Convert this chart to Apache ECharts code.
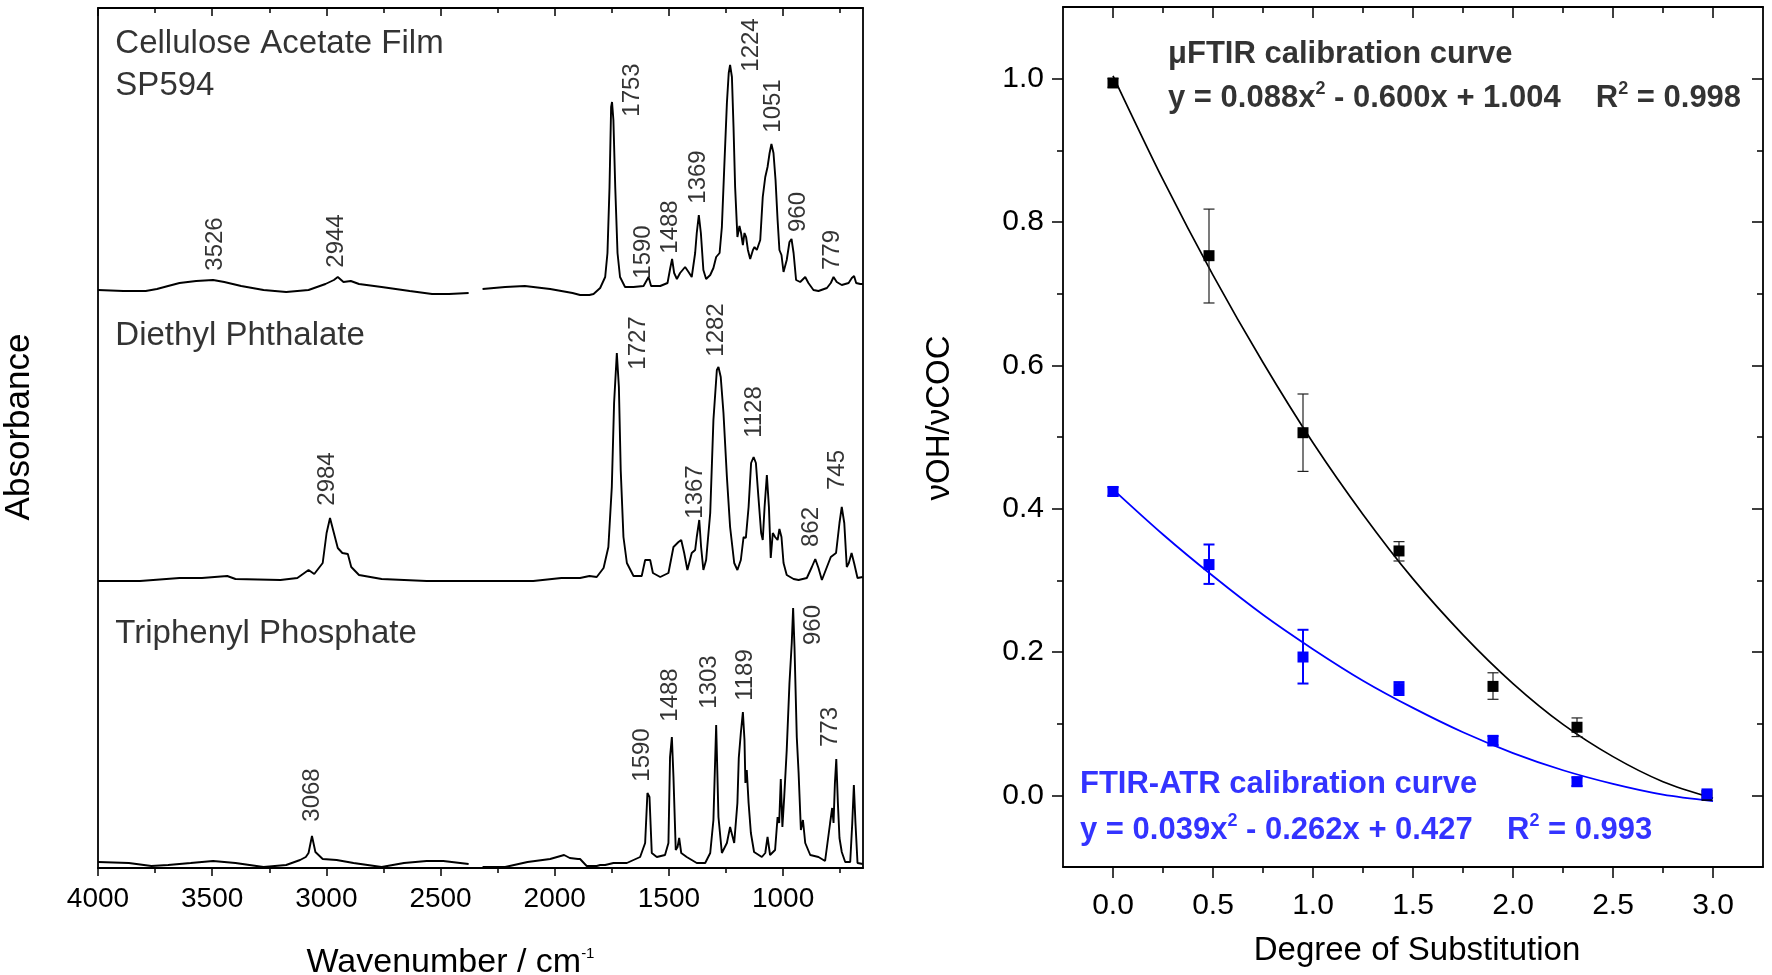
<!DOCTYPE html>
<html>
<head>
<meta charset="utf-8">
<script src="https://cdn.jsdelivr.net/npm/echarts@6/dist/echarts.min.js"></script>
<style>html,body{margin:0;padding:0;background:#fff}#c{width:1772px;height:975px}</style>
</head>
<body>
<div id="c"></div>
<script>
const FONT = 'Liberation Sans, Arial, Helvetica, sans-serif';

// ---- Left panel: FTIR spectra, [wavenumber cm-1, stacked absorbance (a.u.)] ----
const celluloseAcetate = [[4000,5.78],[3889,5.77],[3791,5.77],[3742,5.79],[3693,5.82],[3643,5.85],[3570,5.87],[3496,5.88],[3447,5.86],[3373,5.82],[3275,5.78],[3176,5.76],[3078,5.78],[3004,5.84],[2967,5.88],[2950,5.91],[2925,5.86],[2893,5.87],[2857,5.84],[2758,5.81],[2635,5.77],[2537,5.74],[2463,5.74],[2377,5.75],[2350,'-'],[2316,5.79],[2217,5.81],[2131,5.82],[2020,5.79],[1922,5.75],[1889,5.73],[1848,5.73],[1830,5.74],[1801,5.80],[1779,5.91],[1769,6.15],[1760,6.81],[1753,7.61],[1749,7.66],[1743,7.48],[1735,6.81],[1725,6.15],[1714,5.91],[1692,5.81],[1655,5.81],[1611,5.82],[1589,5.91],[1578,5.82],[1538,5.82],[1506,5.85],[1494,6.00],[1486,6.09],[1477,5.95],[1465,5.89],[1451,5.95],[1429,6.01],[1414,5.96],[1400,5.91],[1385,6.15],[1378,6.35],[1369,6.53],[1360,6.35],[1349,5.98],[1337,5.89],[1319,5.93],[1305,6.00],[1293,6.11],[1278,6.15],[1268,6.41],[1258,6.98],[1246,7.65],[1238,7.95],[1232,8.03],[1224,7.91],[1217,7.41],[1210,6.81],[1200,6.31],[1191,6.42],[1184,6.35],[1176,6.23],[1169,6.35],[1162,6.31],[1154,6.18],[1144,6.09],[1132,6.18],[1125,6.21],[1115,6.18],[1100,6.28],[1089,6.71],[1078,6.91],[1068,7.01],[1059,7.15],[1051,7.24],[1042,7.15],[1033,6.88],[1024,6.48],[1016,6.18],[1007,6.13],[998,5.96],[984,6.08],[972,6.26],[963,6.29],[954,6.15],[943,5.88],[925,5.86],[903,5.91],[889,5.85],[867,5.78],[845,5.77],[808,5.80],[791,5.85],[779,5.91],[765,5.86],[743,5.83],[713,5.85],[699,5.90],[689,5.92],[680,5.85],[662,5.84],[650,5.84]];

const diethylPhthalate = [[4000,2.87],[3816,2.87],[3643,2.90],[3545,2.90],[3434,2.92],[3398,2.89],[3201,2.88],[3127,2.90],[3078,2.98],[3053,2.94],[3016,3.05],[2999,3.35],[2984,3.50],[2967,3.35],[2950,3.20],[2930,3.15],[2906,3.14],[2891,3.01],[2857,2.93],[2758,2.89],[2561,2.87],[2340,2.87],[2094,2.87],[1971,2.90],[1889,2.90],[1848,2.92],[1816,2.91],[1786,3.00],[1765,3.21],[1750,3.81],[1740,4.65],[1728,5.15],[1719,4.81],[1711,3.98],[1699,3.31],[1684,3.05],[1655,2.92],[1619,2.92],[1604,3.08],[1582,3.08],[1570,2.95],[1538,2.91],[1502,2.95],[1480,3.21],[1458,3.26],[1446,3.28],[1433,3.15],[1419,2.98],[1400,3.15],[1385,3.18],[1378,3.31],[1367,3.48],[1359,3.21],[1349,2.98],[1337,3.08],[1319,3.55],[1305,4.48],[1290,4.98],[1283,5.01],[1273,4.91],[1261,4.55],[1246,3.91],[1232,3.41],[1214,3.05],[1200,2.98],[1185,3.08],[1173,3.31],[1163,3.30],[1151,3.61],[1140,4.05],[1129,4.11],[1119,4.05],[1108,3.71],[1096,3.35],[1089,3.28],[1081,3.61],[1071,3.93],[1062,3.61],[1054,3.10],[1045,3.35],[1035,3.31],[1024,3.28],[1016,3.39],[1007,3.31],[998,3.05],[984,2.93],[969,2.91],[954,2.89],[932,2.88],[896,2.90],[874,3.01],[859,3.09],[845,3.00],[830,2.88],[808,3.01],[791,3.11],[768,3.15],[753,3.45],[743,3.61],[732,3.45],[721,3.01],[712,3.05],[700,3.15],[689,3.05],[674,2.90],[651,2.91]];

const triphenylPhosphate = [[4000,0.06],[3865,0.05],[3766,0.02],[3693,0.03],[3594,0.05],[3496,0.07],[3398,0.05],[3275,0.01],[3176,0.03],[3115,0.08],[3090,0.11],[3078,0.15],[3063,0.32],[3048,0.16],[3016,0.09],[2955,0.08],[2881,0.05],[2758,0.01],[2660,0.05],[2561,0.07],[2488,0.07],[2377,0.04],[2350,'-'],[2316,0.01],[2217,0.01],[2119,0.06],[2020,0.09],[1959,0.13],[1934,0.10],[1898,0.09],[1889,0.09],[1860,0.02],[1816,0.02],[1801,0.03],[1779,0.03],[1743,0.05],[1735,0.03],[1684,0.05],[1626,0.11],[1604,0.25],[1594,0.75],[1585,0.71],[1575,0.15],[1553,0.11],[1517,0.13],[1502,0.25],[1495,1.11],[1487,1.31],[1480,0.91],[1470,0.18],[1462,0.21],[1455,0.30],[1446,0.15],[1422,0.11],[1378,0.05],[1341,0.05],[1319,0.15],[1305,0.48],[1293,1.43],[1283,0.51],[1268,0.15],[1246,0.25],[1232,0.41],[1214,0.25],[1200,0.65],[1194,1.10],[1185,1.35],[1176,1.56],[1169,1.28],[1165,0.85],[1159,0.98],[1151,0.65],[1141,0.35],[1127,0.16],[1093,0.11],[1078,0.15],[1068,0.31],[1057,0.13],[1035,0.18],[1024,0.51],[1017,0.45],[1010,0.89],[1003,0.41],[995,0.71],[984,1.18],[972,1.85],[962,2.25],[956,2.60],[950,2.21],[940,1.31],[932,0.95],[922,0.38],[913,0.48],[903,0.25],[881,0.13],[845,0.11],[816,0.07],[794,0.45],[785,0.60],[779,0.45],[773,0.85],[767,1.09],[760,0.65],[753,0.30],[743,0.16],[728,0.06],[706,0.06],[697,0.45],[690,0.83],[683,0.45],[674,0.05],[651,0.04]];

// peak labels: [wavenumber position, height position, text]
const peakLabels = [
  [3484,6.24,'3526'],[2955,6.27,'2944'],[1662,7.78,'1753'],[1611,6.16,'1590'],[1492,6.41,'1488'],
  [1370,6.91,'1369'],[1137,8.23,'1224'],[1042,7.62,'1051'],[932,6.56,'960'],[786,6.18,'779'],
  [2997,3.89,'2984'],[1633,5.25,'1727'],[1294,5.38,'1282'],[1385,3.76,'1367'],[1127,4.56,'1128'],
  [878,3.41,'862'],[762,3.98,'745'],
  [3061,0.73,'3068'],[1614,1.13,'1590'],[1495,1.73,'1488'],[1322,1.86,'1303'],[1163,1.93,'1189'],
  [867,2.43,'960'],[794,1.41,'773']
];
const sampleNames = [
  [3924,8.245,'Cellulose Acetate Film'],[3924,7.82,'SP594'],
  [3924,5.32,'Diethyl Phthalate'],[3924,2.345,'Triphenyl Phosphate']
];
const wnMajorTicks = [1000,1500,2000,2500,3000,3500,4000];
const wnMinorTicks = [750,1250,1750,2250,2750,3250,3750];

// ---- Right panel: calibration curves ----
const dsValues     = [0, 0.48, 0.95, 1.43, 1.90, 2.32, 2.97];
const muFtir       = [0.994, 0.753, 0.506, 0.341, 0.152, 0.095, 0.000];
const muFtirLow    = [0.988, 0.687, 0.452, 0.327, 0.134, 0.082, null];
const muFtirHigh   = [1.000, 0.818, 0.560, 0.354, 0.171, 0.108, null];
const ftirAtr      = [0.424, 0.322, 0.193, 0.149, 0.076, 0.019, 0.002];
const ftirAtrLow   = [0.418, 0.295, 0.156, 0.140, 0.070, 0.013, null];
const ftirAtrHigh  = [0.430, 0.350, 0.231, 0.158, 0.083, 0.025, null];
const fitX         = [0, 0.25, 0.5, 0.75, 1.0, 1.25, 1.5, 1.75, 2.0, 2.25, 2.5, 2.75, 3.0];
const muFtirFit    = [1.004, 0.859, 0.726, 0.604, 0.492, 0.392, 0.302, 0.224, 0.156, 0.099, 0.054, 0.019, -0.004];
const ftirAtrFit   = [0.427, 0.364, 0.306, 0.252, 0.204, 0.160, 0.122, 0.088, 0.059, 0.035, 0.016, 0.001, -0.008];
const dsMajorTicks = [0, 0.5, 1.0, 1.5, 2.0, 2.5, 3.0];
const dsMinorTicks = [0.25, 0.75, 1.25, 1.75, 2.25, 2.75];
const ratioMajorTicks = [0, 0.2, 0.4, 0.6, 0.8, 1.0];
const ratioMinorTicks = [0.1, 0.3, 0.5, 0.7, 0.9];

const BLUE = '#0000ff';
const frame = {show: true, onZero: false, lineStyle: {color: '#000', width: 1.8}};
const noLine = {show: false, onZero: false};
const tickStyle = {color: '#000', width: 1.5};

function axis(base, extra) { return Object.assign({type: 'value', splitLine: {show: false}, axisLabel: {show: false}}, base, extra); }
const wnBase = {gridIndex: 0, min: 650, max: 4000, inverse: true};
const dsBase = {gridIndex: 1, min: -0.25, max: 3.25};
const yLeftBase = {gridIndex: 0, min: 0, max: 8.6};
const yRightBase = {gridIndex: 1, min: -0.1, max: 1.1};
function tick(values, len, inside) { return {show: true, customValues: values, length: len, inside: !!inside, lineStyle: tickStyle}; }

function errorBars(color, width) {
  return function (params, api) {
    const x = api.value(0), lo = api.value(1), hi = api.value(2);
    const a = api.coord([x, lo]), b = api.coord([x, hi]);
    const hw = 5.5;
    const style = {stroke: color, lineWidth: width, fill: null};
    return {type: 'group', children: [
      {type: 'line', shape: {x1: a[0], y1: a[1], x2: b[0], y2: b[1]}, style: style},
      {type: 'line', shape: {x1: a[0] - hw, y1: a[1], x2: a[0] + hw, y2: a[1]}, style: style},
      {type: 'line', shape: {x1: b[0] - hw, y1: b[1], x2: b[0] + hw, y2: b[1]}, style: style}
    ]};
  };
}
function zip2(xs, ys) { return xs.map((x, i) => [x, ys[i]]); }
function zip3(xs, lo, hi) { return xs.map((x, i) => [x, lo[i], hi[i]]).filter(d => d[1] != null); }
const eqRich = function (color) {
  return {
    m: {fontSize: 31, fontWeight: 'bold', color: color, lineHeight: 36, fontFamily: FONT},
    s: {fontSize: 18, fontWeight: 'bold', color: color, lineHeight: 16, verticalAlign: 'top', fontFamily: FONT}
  };
};
const rightTexts = [
  [0.275, 1.034, '{m|μFTIR calibration curve}', '#000'],
  [0.275, 0.973, '{m|y = 0.088x}{s|2}{m| - 0.600x + 1.004}', '#000'],
  [2.414, 0.973, '{m|R}{s|2}{m| = 0.998}', '#000'],
  [-0.165, 0.0147, '{m|FTIR-ATR calibration curve}', BLUE],
  [-0.165, -0.049, '{m|y = 0.039x}{s|2}{m| - 0.262x + 0.427}', BLUE],
  [1.97, -0.049, '{m|R}{s|2}{m| = 0.993}', BLUE]
];

const option = {
  animation: false,
  backgroundColor: '#fff',
  textStyle: {fontFamily: FONT},
  grid: [
    {left: 98, top: 8, width: 765, height: 860, outerBoundsMode: 'none', containLabel: false},
    {left: 1063, top: 7, width: 700, height: 860, outerBoundsMode: 'none', containLabel: false}
  ],
  xAxis: [
    axis(wnBase, {position: 'bottom', axisLine: frame, axisTick: tick(wnMajorTicks, 8),
      axisLabel: {show: true, customValues: wnMajorTicks, fontSize: 28, color: '#000', margin: 17, fontFamily: FONT, formatter: v => String(v)},
      name: '{a|Wavenumber / cm}{s|-1}', nameLocation: 'middle', nameGap: 78,
      nameTextStyle: {padding: [0, 60, 0, 0], rich: {a: {fontSize: 34, color: '#000', lineHeight: 34, fontFamily: FONT}, s: {fontSize: 15, color: '#000', lineHeight: 15, verticalAlign: 'top', fontFamily: FONT}}}}),
    axis(wnBase, {position: 'bottom', axisLine: noLine, axisTick: tick(wnMinorTicks, 5)}),
    axis(wnBase, {position: 'top', axisLine: frame, axisTick: tick(wnMajorTicks, 8, true)}),
    axis(wnBase, {position: 'top', axisLine: noLine, axisTick: tick(wnMinorTicks, 5, true)}),
    axis(dsBase, {position: 'bottom', axisLine: frame, axisTick: tick(dsMajorTicks, 11),
      axisLabel: {show: true, customValues: dsMajorTicks, fontSize: 30, color: '#000', margin: 24, fontFamily: FONT, formatter: v => v.toFixed(1)},
      name: 'Degree of Substitution', nameLocation: 'middle', nameGap: 67,
      nameTextStyle: {fontSize: 33, color: '#000', padding: [0, 0, 0, 8], fontFamily: FONT}}),
    axis(dsBase, {position: 'bottom', axisLine: noLine, axisTick: tick(dsMinorTicks, 6)}),
    axis(dsBase, {position: 'top', axisLine: frame, axisTick: tick(dsMajorTicks, 11, true)}),
    axis(dsBase, {position: 'top', axisLine: noLine, axisTick: tick(dsMinorTicks, 6, true)})
  ],
  yAxis: [
    axis(yLeftBase, {position: 'left', axisLine: frame, axisTick: {show: false},
      name: 'Absorbance', nameLocation: 'middle', nameGap: 61,
      nameTextStyle: {fontSize: 35, color: '#000', padding: [0, 0, 0, 22], fontFamily: FONT}}),
    axis(yLeftBase, {position: 'right', axisLine: frame, axisTick: {show: false}}),
    axis(yRightBase, {position: 'left', axisLine: frame, axisTick: tick(ratioMajorTicks, 11),
      axisLabel: {show: true, customValues: ratioMajorTicks, fontSize: 30, color: '#000', margin: 19, fontFamily: FONT, formatter: v => v.toFixed(1)},
      name: 'νOH/νCOC', nameLocation: 'middle', nameGap: 107,
      nameTextStyle: {fontSize: 33, color: '#000', padding: [0, 0, 0, 38], fontFamily: FONT}}),
    axis(yRightBase, {position: 'left', axisLine: noLine, axisTick: tick(ratioMinorTicks, 6)}),
    axis(yRightBase, {position: 'right', axisLine: frame, axisTick: tick(ratioMajorTicks, 11, true)}),
    axis(yRightBase, {position: 'right', axisLine: noLine, axisTick: tick(ratioMinorTicks, 6, true)})
  ],
  series: [
    {name: 'Cellulose Acetate Film SP594', type: 'line', xAxisIndex: 0, yAxisIndex: 0, data: celluloseAcetate,
      showSymbol: false, symbol: 'none', lineStyle: {color: '#000', width: 1.9}},
    {name: 'Diethyl Phthalate', type: 'line', xAxisIndex: 0, yAxisIndex: 0, data: diethylPhthalate,
      showSymbol: false, symbol: 'none', lineStyle: {color: '#000', width: 1.9}},
    {name: 'Triphenyl Phosphate', type: 'line', xAxisIndex: 0, yAxisIndex: 0, data: triphenylPhosphate,
      showSymbol: false, symbol: 'none', lineStyle: {color: '#000', width: 1.9}},
    {type: 'scatter', xAxisIndex: 0, yAxisIndex: 0, symbolSize: 0, silent: true,
      data: peakLabels.map(p => ({value: [p[0], p[1]], label: {formatter: p[2], color: '#000'}})),
      label: {show: true, position: 'inside', rotate: 90, align: 'center', verticalAlign: 'middle', fontSize: 24, color: '#000', fontFamily: FONT}},
    {type: 'scatter', xAxisIndex: 0, yAxisIndex: 0, symbolSize: 0, silent: true,
      data: sampleNames.map(p => ({value: [p[0], p[1]], label: {formatter: p[2], color: '#000'}})),
      label: {show: true, position: 'right', distance: 0, align: 'left', verticalAlign: 'middle', fontSize: 33, color: '#000', fontFamily: FONT}},

    {name: 'μFTIR fit', type: 'line', xAxisIndex: 4, yAxisIndex: 2, data: zip2(fitX, muFtirFit), smooth: 0.3,
      showSymbol: false, symbol: 'none', lineStyle: {color: '#000', width: 1.7}, z: 2},
    {name: 'FTIR-ATR fit', type: 'line', xAxisIndex: 4, yAxisIndex: 2, data: zip2(fitX, ftirAtrFit), smooth: 0.3,
      showSymbol: false, symbol: 'none', lineStyle: {color: BLUE, width: 1.8}, z: 2},
    {type: 'custom', xAxisIndex: 4, yAxisIndex: 2, renderItem: errorBars('#222', 1.2), data: zip3(dsValues, muFtirLow, muFtirHigh),
      encode: {x: 0, y: [1, 2]}, z: 3},
    {name: 'μFTIR', type: 'scatter', xAxisIndex: 4, yAxisIndex: 2, data: zip2(dsValues, muFtir), symbol: 'rect', symbolSize: 11,
      itemStyle: {color: '#000', opacity: 1}, z: 4},
    {type: 'custom', xAxisIndex: 4, yAxisIndex: 2, renderItem: errorBars(BLUE, 2), data: zip3(dsValues, ftirAtrLow, ftirAtrHigh),
      encode: {x: 0, y: [1, 2]}, z: 5},
    {name: 'FTIR-ATR', type: 'scatter', xAxisIndex: 4, yAxisIndex: 2, data: zip2(dsValues, ftirAtr), symbol: 'rect', symbolSize: 11,
      itemStyle: {color: BLUE, opacity: 1}, z: 6},
    {type: 'scatter', xAxisIndex: 4, yAxisIndex: 2, symbolSize: 0, silent: true, z: 7,
      data: rightTexts.map(t => ({value: [t[0], t[1]], label: {formatter: t[2], rich: eqRich(t[3])}})),
      label: {show: true, position: 'right', distance: 0, align: 'left', verticalAlign: 'middle'}}
  ]
};

echarts.init(document.getElementById('c'), null, {renderer: 'canvas'}).setOption(option);
</script>
</body>
</html>
